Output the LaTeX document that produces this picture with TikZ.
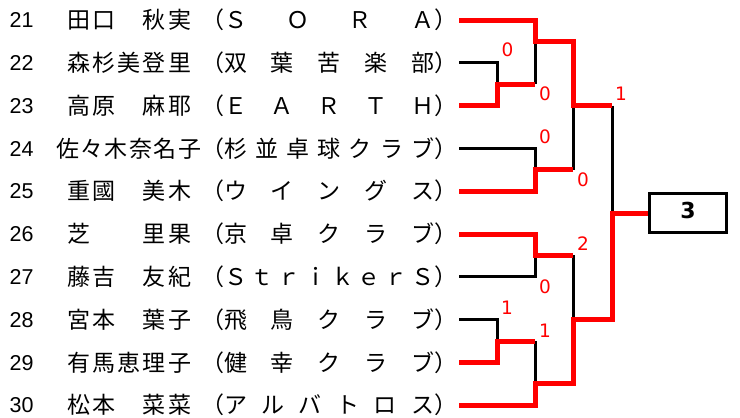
\documentclass[tikz,border=0pt]{standalone}
\usepackage{fontspec}
\setmainfont{Noto Sans CJK JP}
\newfontfamily\lblfont{DejaVu Sans}
\newfontfamily\numfont{Liberation Sans}
\definecolor{win}{RGB}{255,0,0}
\begin{document}
\begin{tikzpicture}[x=1pt,y=-1pt,
  numtxt/.style={anchor=base west, inner sep=0pt, font=\numfont\fontsize{21.5}{22}\selectfont},
  nametxt/.style={anchor=base west, inner sep=0pt, font=\fontsize{23}{24}\selectfont},
  score/.style={text=win, inner sep=0pt, font=\lblfont\fontsize{18.5}{19}\selectfont},
  winline/.style={draw=win, line width=5pt, line join=miter},
  loseline/.style={draw=black, line width=3pt, line join=miter},
  resultbox/.style={draw=black, line width=3pt, minimum width=77pt, minimum height=39pt,
    inner sep=0pt, font=\lblfont\bfseries\fontsize{22}{24}\selectfont,
    text height=16pt, text depth=6pt}]
\useasboundingbox (0,0) rectangle (740,418);
% numbers
\node[numtxt] (n21) at (9.5,27.7) {21};
\node[numtxt] (n22) at (9.5,70.5) {22};
\node[numtxt] (n23) at (9.5,113.3) {23};
\node[numtxt] (n24) at (9.5,156.1) {24};
\node[numtxt] (n25) at (9.5,198.9) {25};
\node[numtxt] (n26) at (9.5,241.7) {26};
\node[numtxt] (n27) at (9.5,284.5) {27};
\node[numtxt] (n28) at (9.5,327.3) {28};
\node[numtxt] (n29) at (9.5,370.1) {29};
\node[numtxt] (n30) at (9.5,412.9) {30};
% names
\node[nametxt] (m21) at (67,28.7) {\makebox[124pt][s]{田\hfil 口\hfil 　\hfil 秋\hfil 実}};
\node[nametxt] (m22) at (67,71.5) {\makebox[124pt][s]{森\hfil 杉\hfil 美\hfil 登\hfil 里}};
\node[nametxt] (m23) at (67,114.3) {\makebox[124pt][s]{高\hfil 原\hfil 　\hfil 麻\hfil 耶}};
\node[nametxt] (m24) at (56,157.1) {\makebox[145pt][s]{佐\hfil 々\hfil 木\hfil 奈\hfil 名\hfil 子}};
\node[nametxt] (m25) at (67,199.9) {\makebox[124pt][s]{重\hfil 國\hfil 　\hfil 美\hfil 木}};
\node[nametxt] (m26) at (67,242.7) {\makebox[124pt][s]{芝\hfil 　\hfil 　\hfil 里\hfil 果}};
\node[nametxt] (m27) at (67,285.5) {\makebox[124pt][s]{藤\hfil 吉\hfil 　\hfil 友\hfil 紀}};
\node[nametxt] (m28) at (67,328.3) {\makebox[124pt][s]{宮\hfil 本\hfil 　\hfil 葉\hfil 子}};
\node[nametxt] (m29) at (67,371.1) {\makebox[124pt][s]{有\hfil 馬\hfil 恵\hfil 理\hfil 子}};
\node[nametxt] (m30) at (67,413.9) {\makebox[124pt][s]{松\hfil 本\hfil 　\hfil 菜\hfil 菜}};
% clubs
\node[nametxt] (c21) at (201,28.7) {（\makebox[210pt][s]{Ｓ\hfil Ｏ\hfil Ｒ\hfil Ａ}）};
\node[nametxt] (c22) at (201,71.5) {（\makebox[210pt][s]{双\hfil 葉\hfil 苦\hfil 楽\hfil 部}）};
\node[nametxt] (c23) at (201,114.3) {（\makebox[210pt][s]{Ｅ\hfil Ａ\hfil Ｒ\hfil Ｔ\hfil Ｈ}）};
\node[nametxt] (c24) at (201,157.1) {（\makebox[210pt][s]{杉\hfil 並\hfil 卓\hfil 球\hfil ク\hfil ラ\hfil ブ}）};
\node[nametxt] (c25) at (201,199.9) {（\makebox[210pt][s]{ウ\hfil イ\hfil ン\hfil グ\hfil ス}）};
\node[nametxt] (c26) at (201,242.7) {（\makebox[210pt][s]{京\hfil 卓\hfil ク\hfil ラ\hfil ブ}）};
\node[nametxt] (c27) at (201,285.5) {（\makebox[210pt][s]{Ｓ\hfil ｔ\hfil ｒ\hfil ｉ\hfil ｋ\hfil ｅ\hfil ｒ\hfil Ｓ}）};
\node[nametxt] (c28) at (201,328.3) {（\makebox[210pt][s]{飛\hfil 鳥\hfil ク\hfil ラ\hfil ブ}）};
\node[nametxt] (c29) at (201,371.1) {（\makebox[210pt][s]{健\hfil 幸\hfil ク\hfil ラ\hfil ブ}）};
\node[nametxt] (c30) at (201,413.9) {（\makebox[210pt][s]{ア\hfil ル\hfil バ\hfil ト\hfil ロ\hfil ス}）};
% line starts
\coordinate (e21) at (459,20);
\coordinate (e22) at (459,62.8);
\coordinate (e23) at (459,105.6);
\coordinate (e24) at (459,148.4);
\coordinate (e25) at (459,191.2);
\coordinate (e26) at (459,234);
\coordinate (e27) at (459,276.8);
\coordinate (e28) at (459,319.6);
\coordinate (e29) at (459,362.4);
\coordinate (e30) at (459,405.2);
% junctions
\coordinate (j1) at (497,84.2);
\coordinate (j2) at (535,41.4);
\coordinate (j3) at (535,169.8);
\coordinate (j4) at (573,105.6);
\coordinate (j5) at (535,255.4);
\coordinate (j6) at (497,341);
\coordinate (j7) at (535,383.8);
\coordinate (j8) at (573,319.6);
\coordinate (j9) at (612,213);
% result box
\node[resultbox] (final) at (688,213) {3};
% losing lines
\draw[loseline] (e22) -| (j1);
\draw[loseline] (j2) -- (j1 -| j2);
\draw[loseline] (e24) -| (j3);
\draw[loseline] (j4) -- (j3 -| j4);
\draw[loseline] (j4 -| j9) -- (j9);
\draw[loseline] (e27) -| (j5);
\draw[loseline] (e28) -| (j6);
\draw[loseline] (j6 -| j7) -- (j7);
\draw[loseline] (j5 -| j8) -- (j8);
% winning lines
\draw[winline] (e21) -| (j2) -| (j4) -- (j4 -| j9);
\draw[winline] (e23) -| (j1) -- (j1 -| j2);
\draw[winline] (e25) -| (j3) -- (j3 -| j4);
\draw[winline] (e26) -| (j5) -- (j5 -| j8);
\draw[winline] (e29) -| (j6) -- (j6 -| j7);
\draw[winline] (e30) -| (j7) -| (j8) -| (j9) -- (final.west);
% scores
\node[score] (s1) at (507.5,50) {0};
\node[score] (s2) at (545,93.5) {0};
\node[score] (s3) at (621,94) {1};
\node[score] (s4) at (545,136.5) {0};
\node[score] (s5) at (583,180) {0};
\node[score] (s6) at (583,244) {2};
\node[score] (s7) at (545,287) {0};
\node[score] (s8) at (507,307.5) {1};
\node[score] (s9) at (545,331) {1};
\end{tikzpicture}
\end{document}
